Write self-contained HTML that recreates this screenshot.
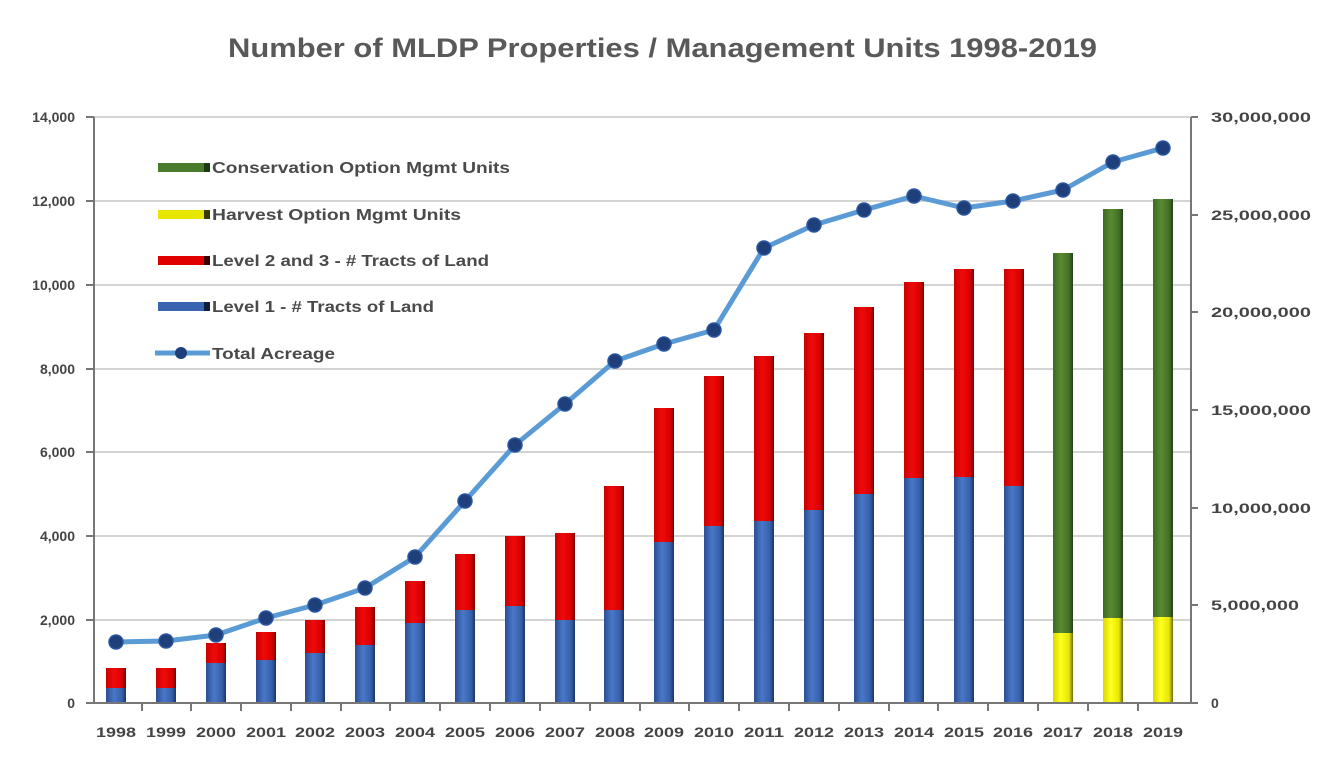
<!DOCTYPE html>
<html><head><meta charset="utf-8"><style>
html,body{margin:0;padding:0;background:#fff;}
svg{display:block;font-family:"Liberation Sans",sans-serif;}
</style></head><body>
<svg width="1335" height="762" viewBox="0 0 1335 762" xmlns="http://www.w3.org/2000/svg">
<defs>
<linearGradient id="gb" x1="0" x2="1" y1="0" y2="0"><stop offset="0" stop-color="#2b4e94"/><stop offset="0.4" stop-color="#4a78c8"/><stop offset="0.8" stop-color="#3560aa"/><stop offset="1" stop-color="#1c3466"/></linearGradient>
<linearGradient id="gr" x1="0" x2="1" y1="0" y2="0"><stop offset="0" stop-color="#c80000"/><stop offset="0.4" stop-color="#f00a0a"/><stop offset="0.8" stop-color="#d80000"/><stop offset="1" stop-color="#7a0000"/></linearGradient>
<linearGradient id="gg" x1="0" x2="1" y1="0" y2="0"><stop offset="0" stop-color="#3e6a22"/><stop offset="0.4" stop-color="#5a8a32"/><stop offset="0.8" stop-color="#446f26"/><stop offset="1" stop-color="#22401a"/></linearGradient>
<linearGradient id="gy" x1="0" x2="1" y1="0" y2="0"><stop offset="0" stop-color="#d8d800"/><stop offset="0.4" stop-color="#ffff20"/><stop offset="0.8" stop-color="#e6e600"/><stop offset="1" stop-color="#6a6a00"/></linearGradient>
</defs>
<text x="228" y="57" textLength="869" lengthAdjust="spacingAndGlyphs" font-size="27" font-weight="bold" fill="#595959">Number of MLDP Properties / Management Units 1998-2019</text>
<g stroke="#d4d4d4" stroke-width="2">
<line x1="94" x2="1190" y1="117" y2="117"/><line x1="94" x2="1190" y1="201" y2="201"/><line x1="94" x2="1190" y1="285" y2="285"/><line x1="94" x2="1190" y1="369" y2="369"/><line x1="94" x2="1190" y1="452" y2="452"/><line x1="94" x2="1190" y1="536" y2="536"/><line x1="94" x2="1190" y1="620" y2="620"/>
</g>
<g font-size="14" font-weight="bold" fill="#444" text-anchor="end">
<text x="75" y="122">14,000</text><text x="75" y="206">12,000</text><text x="75" y="290">10,000</text><text x="75" y="374">8,000</text><text x="75" y="457">6,000</text><text x="75" y="541">4,000</text><text x="75" y="625">2,000</text><text x="75" y="708">0</text>
</g>
<g font-size="14" font-weight="bold" fill="#444">
<text x="1211" y="122" textLength="100" lengthAdjust="spacingAndGlyphs">30,000,000</text><text x="1211" y="220" textLength="100" lengthAdjust="spacingAndGlyphs">25,000,000</text><text x="1211" y="317" textLength="100" lengthAdjust="spacingAndGlyphs">20,000,000</text><text x="1211" y="415" textLength="100" lengthAdjust="spacingAndGlyphs">15,000,000</text><text x="1211" y="513" textLength="100" lengthAdjust="spacingAndGlyphs">10,000,000</text><text x="1211" y="610" textLength="88" lengthAdjust="spacingAndGlyphs">5,000,000</text><text x="1211" y="708">0</text>
</g>
<g>
<rect x="106" y="688" width="20" height="15" fill="url(#gb)"/><rect x="106" y="668" width="20" height="20" fill="url(#gr)"/>
<rect x="156" y="688" width="20" height="15" fill="url(#gb)"/><rect x="156" y="668" width="20" height="20" fill="url(#gr)"/>
<rect x="206" y="663" width="20" height="40" fill="url(#gb)"/><rect x="206" y="643" width="20" height="20" fill="url(#gr)"/>
<rect x="256" y="660" width="20" height="43" fill="url(#gb)"/><rect x="256" y="632" width="20" height="28" fill="url(#gr)"/>
<rect x="305" y="653" width="20" height="50" fill="url(#gb)"/><rect x="305" y="620" width="20" height="33" fill="url(#gr)"/>
<rect x="355" y="645" width="20" height="58" fill="url(#gb)"/><rect x="355" y="607" width="20" height="38" fill="url(#gr)"/>
<rect x="405" y="623" width="20" height="80" fill="url(#gb)"/><rect x="405" y="581" width="20" height="42" fill="url(#gr)"/>
<rect x="455" y="610" width="20" height="93" fill="url(#gb)"/><rect x="455" y="554" width="20" height="56" fill="url(#gr)"/>
<rect x="505" y="606" width="20" height="97" fill="url(#gb)"/><rect x="505" y="536" width="20" height="70" fill="url(#gr)"/>
<rect x="555" y="620" width="20" height="83" fill="url(#gb)"/><rect x="555" y="533" width="20" height="87" fill="url(#gr)"/>
<rect x="604" y="610" width="20" height="93" fill="url(#gb)"/><rect x="604" y="486" width="20" height="124" fill="url(#gr)"/>
<rect x="654" y="542" width="20" height="161" fill="url(#gb)"/><rect x="654" y="408" width="20" height="134" fill="url(#gr)"/>
<rect x="704" y="526" width="20" height="177" fill="url(#gb)"/><rect x="704" y="376" width="20" height="150" fill="url(#gr)"/>
<rect x="754" y="521" width="20" height="182" fill="url(#gb)"/><rect x="754" y="356" width="20" height="165" fill="url(#gr)"/>
<rect x="804" y="510" width="20" height="193" fill="url(#gb)"/><rect x="804" y="333" width="20" height="177" fill="url(#gr)"/>
<rect x="854" y="494" width="20" height="209" fill="url(#gb)"/><rect x="854" y="307" width="20" height="187" fill="url(#gr)"/>
<rect x="904" y="478" width="20" height="225" fill="url(#gb)"/><rect x="904" y="282" width="20" height="196" fill="url(#gr)"/>
<rect x="954" y="477" width="20" height="226" fill="url(#gb)"/><rect x="954" y="269" width="20" height="208" fill="url(#gr)"/>
<rect x="1004" y="486" width="20" height="217" fill="url(#gb)"/><rect x="1004" y="269" width="20" height="217" fill="url(#gr)"/>
<rect x="1053" y="633" width="20" height="70" fill="url(#gy)"/><rect x="1053" y="253" width="20" height="380" fill="url(#gg)"/>
<rect x="1103" y="618" width="20" height="85" fill="url(#gy)"/><rect x="1103" y="209" width="20" height="409" fill="url(#gg)"/>
<rect x="1153" y="617" width="20" height="86" fill="url(#gy)"/><rect x="1153" y="199" width="20" height="418" fill="url(#gg)"/>
</g>
<g stroke="#777" stroke-width="2">
<line x1="94" x2="94" y1="117" y2="703"/>
<line x1="1191" x2="1191" y1="117" y2="703"/>
<line x1="86" x2="1191" y1="703" y2="703"/>
<line x1="1191" x2="1198" y1="117" y2="117"/><line x1="1191" x2="1198" y1="215" y2="215"/><line x1="1191" x2="1198" y1="312" y2="312"/><line x1="1191" x2="1198" y1="410" y2="410"/><line x1="1191" x2="1198" y1="508" y2="508"/><line x1="1191" x2="1198" y1="605" y2="605"/><line x1="1191" x2="1198" y1="703" y2="703"/>
<line x1="86" x2="94" y1="117" y2="117"/><line x1="86" x2="94" y1="201" y2="201"/><line x1="86" x2="94" y1="285" y2="285"/><line x1="86" x2="94" y1="369" y2="369"/><line x1="86" x2="94" y1="452" y2="452"/><line x1="86" x2="94" y1="536" y2="536"/><line x1="86" x2="94" y1="620" y2="620"/>
<path d="M142 703v8M191 703v8M241 703v8M291 703v8M341 703v8M390 703v8M440 703v8M490 703v8M540 703v8M590 703v8M640 703v8M689 703v8M739 703v8M789 703v8M839 703v8M889 703v8M938 703v8M988 703v8M1038 703v8M1088 703v8M1138 703v8"/>
</g>
<g font-size="14" font-weight="bold" fill="#444" text-anchor="middle">
<text x="116" y="737" textLength="40" lengthAdjust="spacingAndGlyphs">1998</text><text x="166" y="737" textLength="40" lengthAdjust="spacingAndGlyphs">1999</text><text x="216" y="737" textLength="40" lengthAdjust="spacingAndGlyphs">2000</text><text x="266" y="737" textLength="40" lengthAdjust="spacingAndGlyphs">2001</text><text x="315" y="737" textLength="40" lengthAdjust="spacingAndGlyphs">2002</text><text x="365" y="737" textLength="40" lengthAdjust="spacingAndGlyphs">2003</text><text x="415" y="737" textLength="40" lengthAdjust="spacingAndGlyphs">2004</text><text x="465" y="737" textLength="40" lengthAdjust="spacingAndGlyphs">2005</text><text x="515" y="737" textLength="40" lengthAdjust="spacingAndGlyphs">2006</text><text x="565" y="737" textLength="40" lengthAdjust="spacingAndGlyphs">2007</text><text x="615" y="737" textLength="40" lengthAdjust="spacingAndGlyphs">2008</text><text x="664" y="737" textLength="40" lengthAdjust="spacingAndGlyphs">2009</text><text x="714" y="737" textLength="40" lengthAdjust="spacingAndGlyphs">2010</text><text x="764" y="737" textLength="40" lengthAdjust="spacingAndGlyphs">2011</text><text x="814" y="737" textLength="40" lengthAdjust="spacingAndGlyphs">2012</text><text x="864" y="737" textLength="40" lengthAdjust="spacingAndGlyphs">2013</text><text x="914" y="737" textLength="40" lengthAdjust="spacingAndGlyphs">2014</text><text x="964" y="737" textLength="40" lengthAdjust="spacingAndGlyphs">2015</text><text x="1013" y="737" textLength="40" lengthAdjust="spacingAndGlyphs">2016</text><text x="1063" y="737" textLength="40" lengthAdjust="spacingAndGlyphs">2017</text><text x="1113" y="737" textLength="40" lengthAdjust="spacingAndGlyphs">2018</text><text x="1163" y="737" textLength="40" lengthAdjust="spacingAndGlyphs">2019</text>
</g>
<polyline fill="none" stroke="#5b9bd5" stroke-width="5" stroke-linejoin="round" points="116,642 166,641 216,635 266,618 315,605 365,588 415,557 465,501 515,445 565,404 615,361 664,344 714,330 764,248 814,225 864,210 914,196 964,208 1013,201 1063,190 1113,162 1163,148"/>
<g fill="#1f3f7a" stroke="#2a56a0" stroke-width="1.5">
<circle cx="116" cy="642" r="7"/><circle cx="166" cy="641" r="7"/><circle cx="216" cy="635" r="7"/><circle cx="266" cy="618" r="7"/><circle cx="315" cy="605" r="7"/><circle cx="365" cy="588" r="7"/><circle cx="415" cy="557" r="7"/><circle cx="465" cy="501" r="7"/><circle cx="515" cy="445" r="7"/><circle cx="565" cy="404" r="7"/><circle cx="615" cy="361" r="7"/><circle cx="664" cy="344" r="7"/><circle cx="714" cy="330" r="7"/><circle cx="764" cy="248" r="7"/><circle cx="814" cy="225" r="7"/><circle cx="864" cy="210" r="7"/><circle cx="914" cy="196" r="7"/><circle cx="964" cy="208" r="7"/><circle cx="1013" cy="201" r="7"/><circle cx="1063" cy="190" r="7"/><circle cx="1113" cy="162" r="7"/><circle cx="1163" cy="148" r="7"/>
</g>
<rect x="158" y="163" width="52" height="9" fill="#4a7a2c"/><rect x="204" y="163" width="6" height="9" fill="#1e3a12"/>
<rect x="158" y="210" width="52" height="9" fill="#e6e600"/><rect x="204" y="210" width="6" height="9" fill="#3a3a00"/>
<rect x="158" y="256" width="52" height="9" fill="#e00000"/><rect x="204" y="256" width="6" height="9" fill="#3a0000"/>
<rect x="158" y="302" width="52" height="9" fill="#3b64b0"/><rect x="204" y="302" width="6" height="9" fill="#0d1d3a"/>
<line x1="155" x2="210" y1="353" y2="353" stroke="#5b9bd5" stroke-width="5"/><circle cx="181" cy="353" r="6" fill="#1f3f7a"/>
<g font-size="16" font-weight="bold" fill="#4a4a4a">
<text x="212" y="173" textLength="298" lengthAdjust="spacingAndGlyphs">Conservation Option Mgmt Units</text>
<text x="212" y="220" textLength="249" lengthAdjust="spacingAndGlyphs">Harvest Option Mgmt Units</text>
<text x="212" y="266" textLength="277" lengthAdjust="spacingAndGlyphs">Level 2 and 3 - # Tracts of Land</text>
<text x="212" y="312" textLength="222" lengthAdjust="spacingAndGlyphs">Level 1 - # Tracts of Land</text>
<text x="212" y="359" textLength="123" lengthAdjust="spacingAndGlyphs">Total Acreage</text>
</g>
</svg>
</body></html>
